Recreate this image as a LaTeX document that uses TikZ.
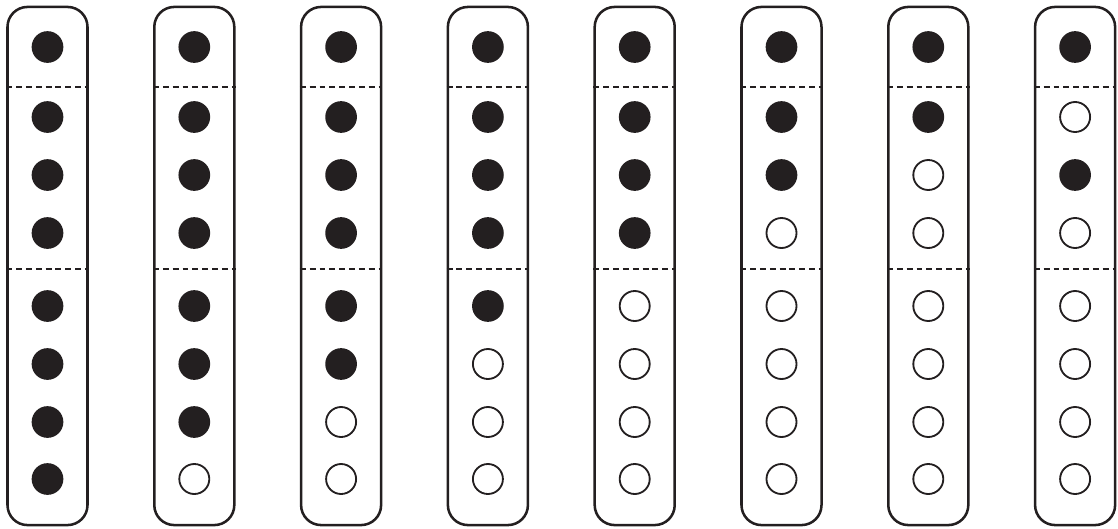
\documentclass[tikz,border=0pt]{standalone}
\usepackage{xcolor}
\usepackage{tikz}
\usetikzlibrary{positioning,calc}
\definecolor{ink}{RGB}{35,31,32}

\begin{document}
\begin{tikzpicture}[
    x=0.025cm, y=-0.025cm,
    column/.style={draw=ink, line width=1.8pt, rounded corners=0.5cm,
                minimum width=2cm, minimum height=12.95cm, inner sep=0pt},
    full/.style={circle, fill=ink, draw=ink, line width=1.2pt, minimum size=0.75cm, inner sep=0pt},
    empty/.style={circle, fill=white, draw=ink, line width=1.3pt, minimum size=0.75cm, inner sep=0pt},
    divider/.style={draw=ink, line width=1.6pt, dash pattern=on 4.2pt off 2.8pt}
]
\useasboundingbox (0,0) rectangle (1118,528);
\def\rowy{{47,117,175,233,306,364,422,479}}
\foreach \pat [count=\c] in {{1,1,1,1,1,1,1,1},{1,1,1,1,1,1,1,0},{1,1,1,1,1,1,0,0},
                             {1,1,1,1,1,0,0,0},{1,1,1,1,0,0,0,0},{1,1,1,0,0,0,0,0},
                             {1,1,0,0,0,0,0,0},{1,0,1,0,0,0,0,0}} {
  \pgfmathsetmacro{\cx}{47.5+146.8*(\c-1)}
  \node[column] (col\c) at (\cx,266) {};
  % dashed separators
  \coordinate (topcut\c) at (\cx,87);
  \coordinate (lowcut\c) at (\cx,269);
  \draw[divider] (col\c.west |- topcut\c) -- (col\c.east |- topcut\c);
  \draw[divider] (col\c.west |- lowcut\c) -- (col\c.east |- lowcut\c);
  % dots
  \foreach \f [count=\r] in \pat {
    \pgfmathsetmacro{\dy}{\rowy[\r-1]}
    \ifnum\f=1
      \node[full] (dot\c-\r) at (\cx,\dy) {};
    \else
      \node[empty] (dot\c-\r) at (\cx,\dy) {};
    \fi
  }
}
\end{tikzpicture}
\end{document}
